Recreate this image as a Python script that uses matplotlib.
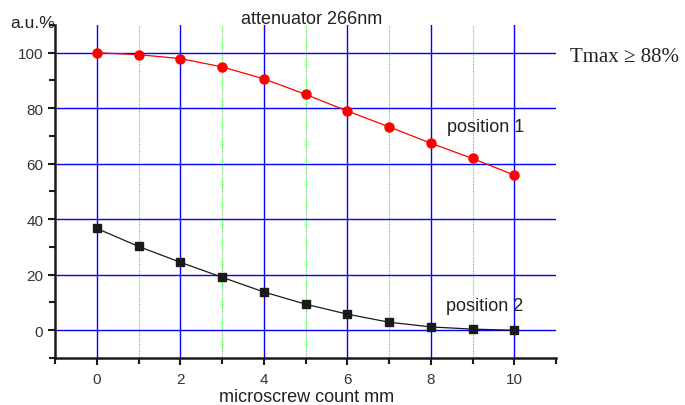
import numpy as np
import matplotlib
matplotlib.use("Agg")
from matplotlib import pyplot as plt
from matplotlib.ticker import MultipleLocator

plt.rcParams["font.family"] = ["Liberation Sans", "DejaVu Sans"]

# microscrew position [mm]
screw_mm = [0, 1, 2, 3, 4, 5, 6, 7, 8, 9, 10]
# transmission, a.u. %
pos1 = [100.0, 99.3, 97.9, 94.9, 90.6, 85.0, 79.0, 73.3, 67.4, 61.9, 55.9]
pos2 = [36.7, 30.2, 24.5, 19.1, 13.8, 9.4, 5.8, 2.9, 1.2, 0.4, 0.0]

fig = plt.figure(figsize=(6.85, 4.06), dpi=100)
ax = fig.add_axes([0.0803, 0.1158, 0.7314, 0.8202])

ax.set_xlim(-1, 11)
ax.set_ylim(-10, 110)
ax.xaxis.set_major_locator(MultipleLocator(2))
ax.xaxis.set_minor_locator(MultipleLocator(1))
ax.yaxis.set_major_locator(MultipleLocator(20))
ax.yaxis.set_minor_locator(MultipleLocator(10))

# grid: blue majors, dotted green at odd mm
for x in range(0, 11, 2):
    ax.axvline(x, color="#0000ff", lw=1.0, zorder=1)
for x in range(1, 10, 2):
    ax.axvline(x, color="#33ee33", lw=0.8, ls=(0, (1, 1)), zorder=1)
for y in range(0, 101, 20):
    ax.axhline(y, color="#0000ff", lw=1.0, zorder=1)

ax.plot(screw_mm, pos1, "-o", color="red", ms=6.5, lw=0.9, zorder=3)
ax.plot(screw_mm, pos2, "-s", color="#1a1a1a", ms=6, lw=0.9, zorder=3)

for s in ["top", "right"]:
    ax.spines[s].set_visible(False)
for s in ["left", "bottom"]:
    ax.spines[s].set_linewidth(1.8)
    ax.spines[s].set_color("#1a1a1a")
ax.tick_params(which="major", direction="out", length=5, width=1.5,
               labelsize=11, colors="#1a1a1a", labelcolor="#333333")
ax.tick_params(which="minor", direction="out", length=4, width=1.5, colors="#1a1a1a")
ax.tick_params(axis="x", which="major", pad=5)

fig.text(312 / 685, 1 - 19 / 406, "attenuator 266nm", fontsize=13, color="#222222",
         va="center", ha="center")
fig.text(10 / 685, 1 - 24 / 406, "a.u.%", fontsize=12.5, color="#222222", va="center")
ax.text(8.39, 73.4, "position 1", fontsize=13, color="#222222", va="center")
ax.text(8.37, 8.8, "position 2", fontsize=13, color="#222222", va="center")
fig.text(570 / 685, 1 - 57 / 406, "Tmax \u2265 88%", fontsize=15,
         family=["Liberation Serif", "DejaVu Serif"], color="#222222", va="center")
fig.text(307 / 685, 1 - 398 / 406, "microscrew count mm", fontsize=13,
         color="#222222", va="center", ha="center")

fig.savefig("out.png", dpi=100)
